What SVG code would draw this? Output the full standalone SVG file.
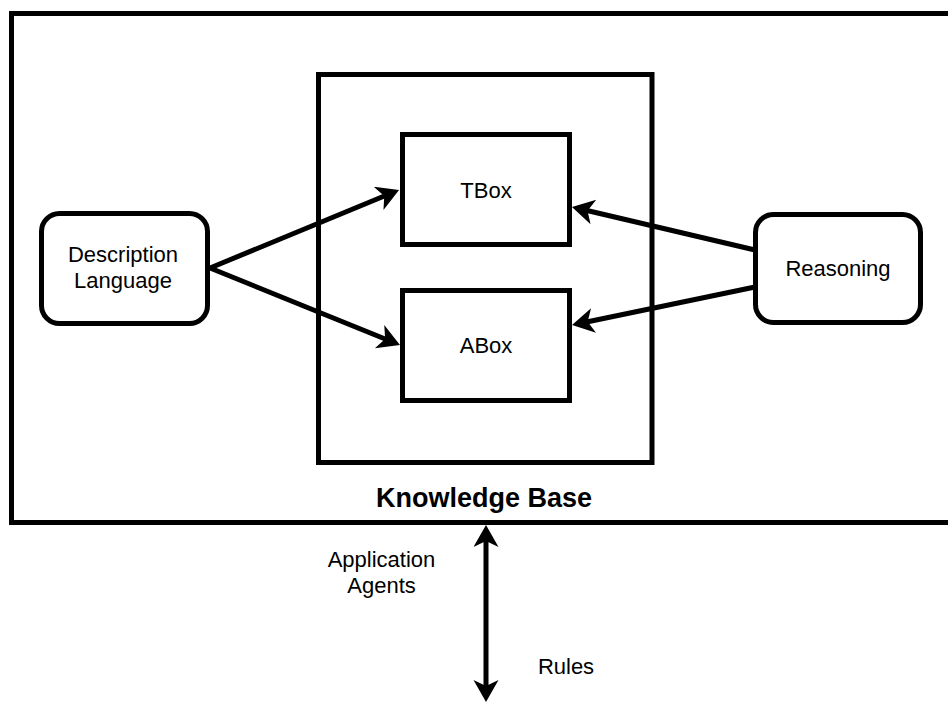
<svg xmlns="http://www.w3.org/2000/svg" width="948" height="704" viewBox="0 0 948 704">
  <style>
    .box { fill: #ffffff; stroke: #000000; stroke-width: 5; }
    .frame { fill: none; stroke: #000000; stroke-width: 5; }
    .lbl { font-family: "Liberation Sans", Arial, Helvetica, sans-serif; font-size: 22px; fill: #000000; text-anchor: middle; }
    .title { font-family: "Liberation Sans", Arial, Helvetica, sans-serif; font-size: 27px; font-weight: bold; fill: #000000; text-anchor: middle; }
    .edge { fill: none; stroke: #000000; stroke-width: 5; }
  </style>
  <defs>
    <marker id="head" markerUnits="userSpaceOnUse" markerWidth="30" markerHeight="30" refX="12" refY="12.5" orient="auto-start-reverse">
      <path d="M0,0 L22,12.5 L0,25 L6,12.5 Z" fill="#000000"/>
    </marker>
  </defs>

  <rect x="0" y="0" width="948" height="704" fill="#ffffff"/>

  <!-- outer system frame -->
  <g id="system">
    <rect class="frame" x="11.5" y="13.5" width="950" height="509"/>
  </g>

  <!-- knowledge base container -->
  <g id="knowledge-base">
    <rect class="box" x="318.5" y="74.5" width="333.5" height="388"/>
    <text class="title" x="484" y="507">Knowledge Base</text>
  </g>

  <g id="tbox">
    <rect class="box" x="402.5" y="134.5" width="167" height="110"/>
    <text class="lbl" x="486" y="197.5">TBox</text>
  </g>

  <g id="abox">
    <rect class="box" x="402.5" y="290.5" width="167" height="110"/>
    <text class="lbl" x="486" y="353">ABox</text>
  </g>

  <g id="description-language">
    <rect class="box" x="41.5" y="213.5" width="166" height="110" rx="18" ry="18"/>
    <text class="lbl" x="123" y="262">Description</text>
    <text class="lbl" x="123" y="288">Language</text>
  </g>

  <g id="reasoning">
    <rect class="box" x="755.5" y="214.5" width="165" height="108" rx="18" ry="18"/>
    <text class="lbl" x="838" y="276">Reasoning</text>
  </g>

  <g id="application-labels">
    <text class="lbl" x="381.5" y="567">Application</text>
    <text class="lbl" x="381.5" y="593">Agents</text>
    <text class="lbl" x="566" y="674">Rules</text>
  </g>

  <!-- connectors -->
  <g id="connectors">
    <line class="edge" x1="210" y1="268" x2="389.8" y2="193.8" marker-end="url(#head)"/>
    <line class="edge" x1="210" y1="268" x2="390.7" y2="341.2" marker-end="url(#head)"/>
    <line class="edge" x1="755" y1="250" x2="581.7" y2="209.3" marker-end="url(#head)"/>
    <line class="edge" x1="755" y1="287" x2="581.8" y2="323" marker-end="url(#head)"/>
    <line class="edge" x1="486" y1="535" x2="486" y2="692" marker-start="url(#head)" marker-end="url(#head)"/>
  </g>
</svg>
